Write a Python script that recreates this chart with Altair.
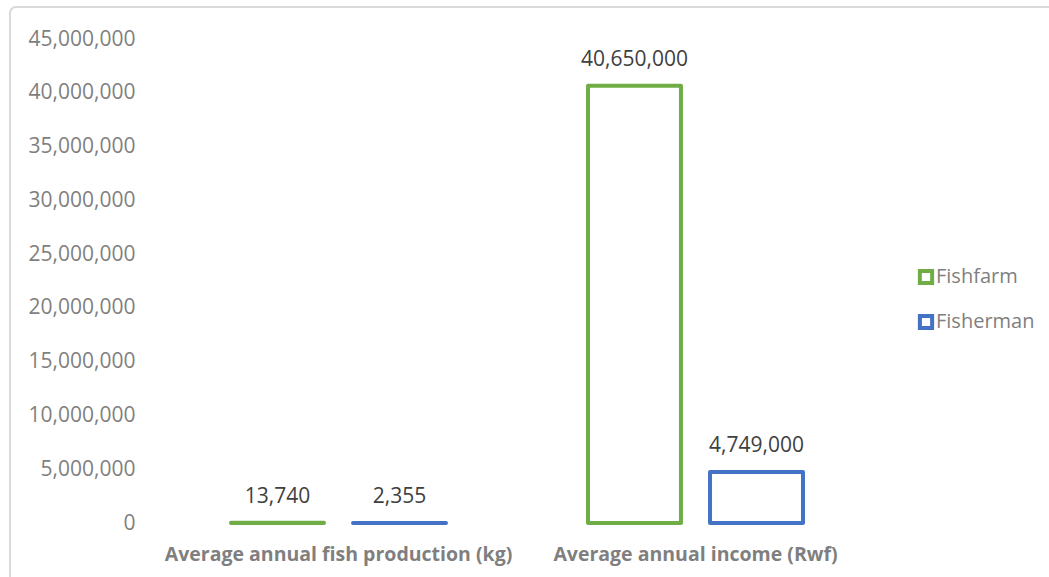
import altair as alt
import pandas as pd

categories = ["Average annual fish production (kg)", "Average annual income (Rwf)"]
series = ["Fishfarm", "Fisherman"]
fishfarm = [13740, 40650000]
fisherman = [2355, 4749000]
y_ticks = [0, 5000000, 10000000, 15000000, 20000000, 25000000, 30000000, 35000000, 40000000, 45000000]
colors = ["#70AD47", "#4472C4"]

rows = []
for i, c in enumerate(categories):
    rows.append({"category": c, "series": series[0], "value": fishfarm[i]})
    rows.append({"category": c, "series": series[1], "value": fisherman[i]})
df = pd.DataFrame(rows)

FONT = "Open Sans"
W, H = 714, 484

x = alt.X("category:N", sort=categories,
          scale=alt.Scale(paddingInner=0, paddingOuter=0),
          axis=alt.Axis(title=None, labelAngle=0, domain=False, ticks=False, labelLimit=0,
                        labelFont=FONT, labelFontSize=19.5, labelFontWeight="bold",
                        labelColor="#7F7F7F", labelPadding=22))
xo = alt.XOffset("series:N", sort=series,
                 scale=alt.Scale(paddingInner=0.238, paddingOuter=0.582))
y = alt.Y("value:Q", scale=alt.Scale(domain=[0, 45000000]),
          axis=alt.Axis(title=None, values=y_ticks, format=",.0f", domain=False, ticks=False,
                        grid=False, labelFont=FONT, labelFontSize=21, labelColor="#7F7F7F",
                        labelPadding=25))

bars = alt.Chart(df).mark_bar(fill="white", strokeWidth=4, strokeJoin="round").encode(
    x=x, xOffset=xo, y=y,
    stroke=alt.Stroke("series:N", sort=series,
                      scale=alt.Scale(domain=series, range=colors),
                      legend=alt.Legend(title=None, orient="none", legendX=756, legendY=228,
                                        symbolType="square", symbolSize=150,
                                        symbolStrokeWidth=4, symbolFillColor="white",
                                        labelFont=FONT, labelFontSize=20, labelColor="#7F7F7F",
                                        rowPadding=15, labelOffset=0)),
)

labels = alt.Chart(df).mark_text(baseline="bottom", dy=-16, font=FONT, fontSize=21,
                                 color="#404040").encode(
    x=x, xOffset=xo, y=y, text=alt.Text("value:Q", format=",")
)

frame = alt.Chart(pd.DataFrame({"a": [0]})).mark_rect(
    fill=None, stroke="#D9D9D9", strokeWidth=2, cornerRadius=6
).encode(x=alt.value(-150), x2=alt.value(W + 200), y=alt.value(-32), y2=alt.value(H + 100))

chart = alt.layer(frame, bars, labels).properties(
    width=W, height=H,
    autosize=alt.AutoSizeParams(type="none"),
    padding={"left": 160, "top": 39, "right": 175, "bottom": 54},
    background="white",
).configure_view(stroke=None)

chart.save("out.html", embed_options={"renderer": "svg", "actions": False})
